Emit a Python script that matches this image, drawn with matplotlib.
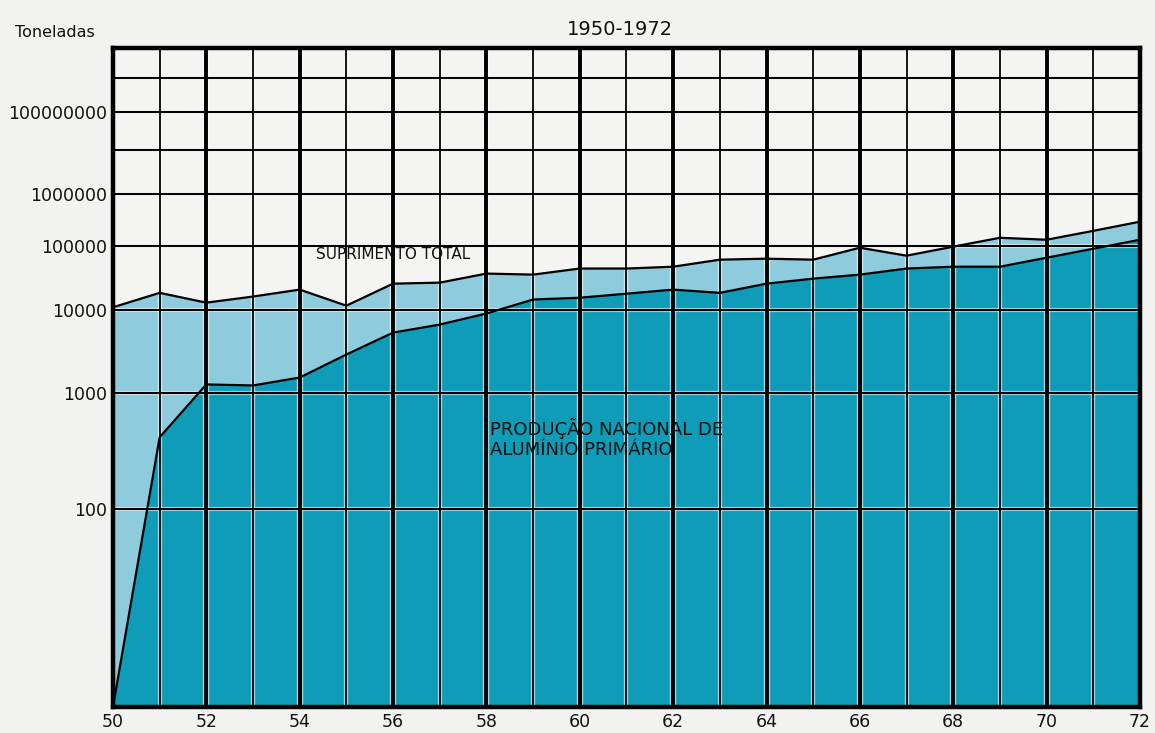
import numpy as np
import matplotlib.pyplot as plt

# data (toneladas)
years = [50, 51, 52, 53, 54, 55, 56, 57, 58, 59, 60, 61,
         62, 63, 64, 65, 66, 67, 68, 69, 70, 71, 72]
suprimento = [11000, 17800, 12800, 15700, 19900, 11600, 24500, 25400,
              35200, 33900, 42400, 42400, 45400, 59300, 61600, 59300,
              94800, 69200, 98900, 142000, 131000, 190000, 282000]
producao = [10, 368, 1220, 1190, 1450, 2670, 5000, 6380, 9000, 14200,
            15100, 17300, 19900, 17800, 24500, 29300, 33900, 42400,
            45400, 45400, 64000, 91000, 131000]
ytick_vals = [1e2, 1e3, 1e4, 1e5, 1e6, 1e8]
ytick_labels = ['100', '1000', '10000', '100000', '1000000', '100000000']
xtick_vals = [50, 52, 54, 56, 58, 60, 62, 64, 66, 68, 70, 72]

dark = '#0f9cb8'
light = '#8ecbdc'
paper = '#f2f2f0'


# the original uses a log-log paper: height ~ log(log(v))
def fwd(v):
    v = np.clip(np.asarray(v, dtype=float), 1.0001, None)
    return np.log10(np.log10(v))


def inv(u):
    return 10 ** (10 ** np.asarray(u, dtype=float))


fig = plt.figure(figsize=(11.55, 7.33), dpi=100, facecolor=paper)
ax = fig.add_axes([0.0978, 0.0355, 0.8892, 0.899])
ax.set_facecolor('#f4f4f2')
ax.set_yscale('function', functions=(fwd, inv))
ax.set_ylim(10, 1e10)
ax.set_xlim(50, 72)

ax.fill_between(years, 10, suprimento, color=light, lw=0, zorder=1)
ax.fill_between(years, 10, producao, color=dark, lw=0, zorder=2)

# grid
for d in range(2, 10):
    ax.axhline(10 ** d, color='white', lw=3.0, alpha=0.6, zorder=3)
    ax.axhline(10 ** d, color='black', lw=1.5, zorder=4)
for yr in range(51, 72):
    w = 2.8 if yr % 2 == 0 else 1.3
    ax.axvline(yr, color='white', lw=w + 1.8, alpha=0.6, zorder=3)
    ax.axvline(yr, color='black', lw=w, zorder=4)

ax.plot(years, suprimento, color='black', lw=1.6, zorder=5)
ax.plot(years, producao, color='black', lw=1.6, zorder=5)

for s in ax.spines.values():
    s.set_linewidth(3.2)
    s.set_zorder(6)

ax.set_yticks(ytick_vals)
ax.set_yticklabels(ytick_labels)
ax.yaxis.set_minor_locator(plt.NullLocator())
ax.set_xticks(xtick_vals)
ax.set_xticklabels([str(x) for x in xtick_vals])
ax.tick_params(axis='both', length=0, labelsize=12.5, colors='#111111')
ax.tick_params(axis='y', pad=4)
ax.tick_params(axis='x', pad=4)

fig.text(0.013, 0.955, 'Toneladas', fontsize=11.5, va='center', color='#111111')
fig.text(0.537, 0.96, '1950-1972', fontsize=14, ha='center', va='center',
         color='#111111')

ax.text(54.35, 72000, 'SUPRIMENTO TOTAL', fontsize=11, va='center',
        ha='left', color='#111111', zorder=7)
ax.text(58.08, 360, 'PRODUÇÃO NACIONAL DE\nALUMÍNIO PRIMÁRIO', fontsize=13,
        va='center', ha='left', color='#111111', linespacing=1.2, zorder=7)

fig.savefig('out.png', dpi=100, facecolor=paper)
